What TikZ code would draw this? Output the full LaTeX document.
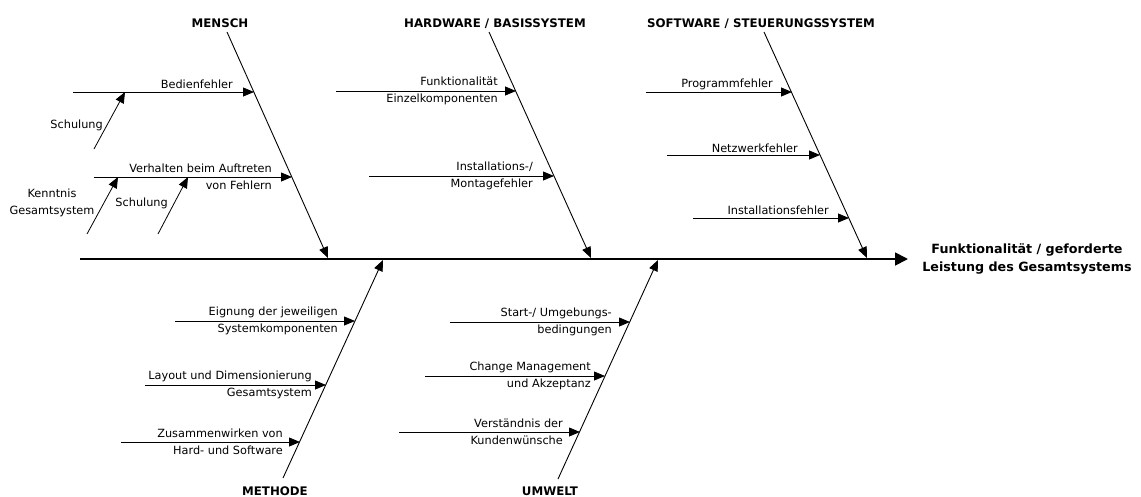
\documentclass[tikz,border=0pt]{standalone}
\usepackage{fontspec}
\setmainfont{DejaVu Sans}
\usetikzlibrary{arrows.meta}
\begin{document}
\begin{tikzpicture}[x=1pt,y=-1pt,
  tipstyle/.style={-{Triangle[length=11pt,width=9pt]}},
  branch/.style={draw, line width=0.8pt, tipstyle},
  bone/.style={draw, line width=0.9pt, tipstyle},
  spine/.style={draw, line width=1.8pt, -{Triangle[length=13pt,width=13pt]}},
  lab/.style={font=\fontsize{11.3}{17}\selectfont, inner sep=0pt, align=right},
  head/.style={font=\fontsize{11.8}{14}\selectfont\bfseries, inner sep=0pt},
  result/.style={font=\fontsize{12.7}{18}\selectfont\bfseries, inner sep=0pt, align=center},
]
\useasboundingbox (0,0) rectangle (1141,496);

% spine
\coordinate (sp0) at (80,259);
\coordinate (sp1) at (908,259);
\draw[spine] (sp0) -- (sp1);
\node[result] (res) at (1027,259) {Funktionalität / geforderte\\Leistung des Gesamtsystems};

% MENSCH
\node[head, anchor=base] (mensch) at (220,27) {MENSCH};
\coordinate (m0) at (227,32);
\coordinate (m1) at (328,258);
\coordinate (mA) at (254,92);
\coordinate (mB) at (292,177);
\draw[bone] (m0) -- (m1);
\coordinate (bA) at (73,92);
\draw[branch] (bA) -- (mA);
\node[lab, anchor=base east] (bedien) at (233,88) {Bedienfehler};
\coordinate (sc1a) at (94,149);
\coordinate (sc1b) at (125,92);
\draw[branch] (sc1a) -- (sc1b);
\node[lab, anchor=base east] (schul1) at (103,128) {Schulung};
\coordinate (vA) at (94,177);
\draw[branch] (vA) -- (mB);
\node[lab, anchor=east] (verh) at (272,177) {Verhalten beim Auftreten\\von Fehlern};
\coordinate (ka) at (87,234);
\coordinate (kb) at (118,177);
\draw[branch] (ka) -- (kb);
\node[lab, align=center] (kennt) at (52,203) {Kenntnis\\Gesamtsystem};
\coordinate (sc2a) at (158,234);
\coordinate (sc2b) at (188,177);
\draw[branch] (sc2a) -- (sc2b);
\node[lab, anchor=base east] (schul2) at (168,206) {Schulung};

% HARDWARE
\node[head, anchor=base] (hw) at (495,27) {HARDWARE / BASISSYSTEM};
\coordinate (h0) at (489,32);
\coordinate (h1) at (591,258);
\coordinate (hA) at (516,91);
\coordinate (hB) at (554,176);
\draw[bone] (h0) -- (h1);
\coordinate (fA) at (336,91);
\draw[branch] (fA) -- (hA);
\node[lab, anchor=east] (funk) at (498,91) {Funktionalität\\Einzelkomponenten};
\coordinate (iA) at (369,176);
\draw[branch] (iA) -- (hB);
\node[lab, anchor=east] (inst) at (533,176) {Installations-/\\Montagefehler};

% SOFTWARE
\node[head, anchor=base] (sw) at (761,27) {SOFTWARE / STEUERUNGSSYSTEM};
\coordinate (s0) at (764,32);
\coordinate (s1) at (867,258);
\coordinate (sA) at (792,92);
\coordinate (sB) at (820,155);
\coordinate (sC) at (849,218);
\draw[bone] (s0) -- (s1);
\coordinate (pA) at (646,92);
\draw[branch] (pA) -- (sA);
\node[lab, anchor=base east] (prog) at (773,87) {Programmfehler};
\coordinate (nA) at (667,155);
\draw[branch] (nA) -- (sB);
\node[lab, anchor=base east] (netz) at (798,152) {Netzwerkfehler};
\coordinate (isA) at (693,218);
\draw[branch] (isA) -- (sC);
\node[lab, anchor=base east] (instf) at (829,214) {Installationsfehler};

% METHODE
\node[head, anchor=base] (meth) at (275,495) {METHODE};
\coordinate (t0) at (283,478);
\coordinate (t1) at (383,260);
\coordinate (tA) at (355,321);
\coordinate (tB) at (326,385);
\coordinate (tC) at (300,442);
\draw[bone] (t0) -- (t1);
\coordinate (eA) at (175,321);
\draw[branch] (eA) -- (tA);
\node[lab, anchor=east] (eign) at (338,321) {Eignung der jeweiligen\\Systemkomponenten};
\coordinate (lA) at (145,385);
\draw[branch] (lA) -- (tB);
\node[lab, anchor=east] (layout) at (312,385) {Layout und Dimensionierung\\Gesamtsystem};
\coordinate (zA) at (121,442);
\draw[branch] (zA) -- (tC);
\node[lab, anchor=east] (zus) at (283,442) {Zusammenwirken von\\Hard- und Software};

% UMWELT
\node[head, anchor=base] (umw) at (550,495) {UMWELT};
\coordinate (u0) at (558,479);
\coordinate (u1) at (658,260);
\coordinate (uA) at (630,322);
\coordinate (uB) at (605,376);
\coordinate (uC) at (580,432);
\draw[bone] (u0) -- (u1);
\coordinate (stA) at (450,322);
\draw[branch] (stA) -- (uA);
\node[lab, anchor=east] (start) at (612,322) {Start-/ Umgebungs-\\bedingungen};
\coordinate (cA) at (425,376);
\draw[branch] (cA) -- (uB);
\node[lab, anchor=east] (change) at (591,376) {Change Management\\und Akzeptanz};
\coordinate (vsA) at (399,432);
\draw[branch] (vsA) -- (uC);
\node[lab, anchor=east] (verst) at (563,432) {Verständnis der\\Kundenwünsche};
\end{tikzpicture}
\end{document}
